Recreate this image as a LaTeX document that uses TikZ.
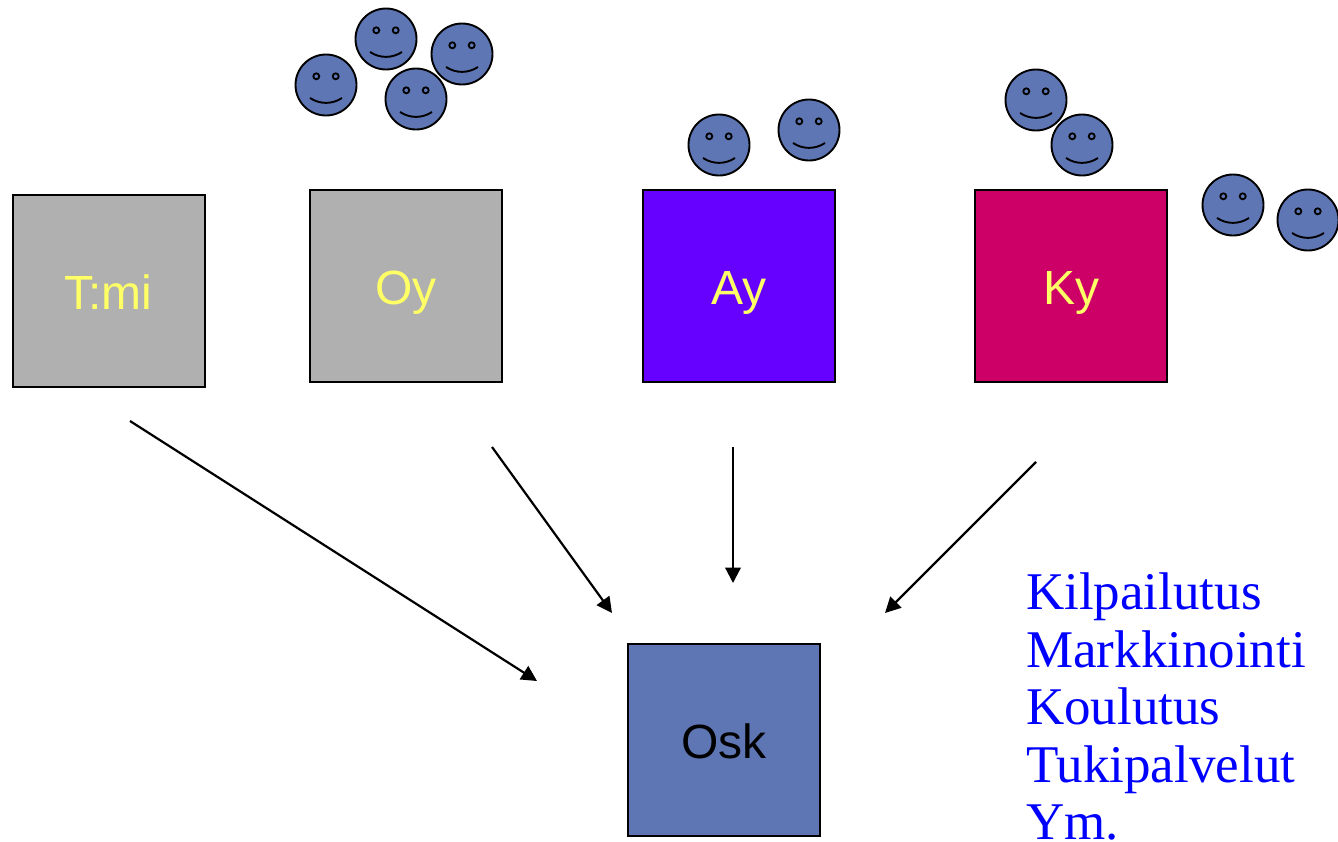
\documentclass[tikz,border=0pt]{standalone}
\usepackage{fontspec}
\setmainfont{Liberation Sans}
\newfontfamily\listfont{Liberation Serif}
\usetikzlibrary{arrows.meta}
\definecolor{facefill}{HTML}{5F76B4}
\definecolor{boxgray}{HTML}{B0B0B0}
\definecolor{boxviolet}{HTML}{6600FF}
\definecolor{boxred}{HTML}{CC0066}
\definecolor{labelyellow}{HTML}{FFFF66}
\tikzset{
  x=1pt,y=-1pt,
  orgbox/.style={draw=black,line width=2pt,minimum width=192pt,minimum height=192pt,inner sep=0pt,
    text height=36pt,text depth=0pt,
    font=\fontsize{48}{48}\selectfont,text=labelyellow},
  flow/.style={draw=black,line width=2.2pt,-{Triangle[length=15.5pt,width=15.5pt]}},
  pics/smiley/.style={code={
    \draw[fill=facefill,line width=1.9pt] (0,0) circle[radius=30.5];
    \draw[line width=1.8pt] (-9.7,-8.7) circle[radius=3] (9.7,-8.7) circle[radius=3];
    \draw[line width=1.9pt] (-16,13) .. controls (-6,19.5) and (6,19.5) .. (16,13);
  }}
}
\begin{document}
\begin{tikzpicture}
\useasboundingbox (0,0) rectangle (1338,841);
\pic (f1) at (386,39) {smiley};
\pic (f2) at (462,54) {smiley};
\pic (f3) at (416,99) {smiley};
\pic (f4) at (326,85) {smiley};
\pic (f5) at (719,145) {smiley};
\pic (f6) at (809,130) {smiley};
\pic (f7) at (1036,100) {smiley};
\pic (f8) at (1082,145) {smiley};
\pic (f9) at (1233,205) {smiley};
\pic (f10) at (1308,220) {smiley};
\node[orgbox,fill=boxgray] (tmi) at (108.5,291.3) {T:mi};
\node[orgbox,fill=boxgray] (oy) at (406,286) {Oy};
\node[orgbox,fill=boxviolet] (ay) at (739,286) {Ay};
\node[orgbox,fill=boxred] (ky) at (1071,286) {Ky};
\node[orgbox,fill=facefill,text=black] (osk) at (724,740) {Osk};
\coordinate (a1s) at (130,421); \coordinate (a1e) at (537,681);
\coordinate (a2s) at (492,447); \coordinate (a2e) at (612,613);
\coordinate (a3s) at (733,447); \coordinate (a3e) at (733,583);
\coordinate (a4s) at (1036,462); \coordinate (a4e) at (885,613);
\draw[flow] (a1s) -- (a1e);
\draw[flow] (a2s) -- (a2e);
\draw[flow] (a3s) -- (a3e);
\draw[flow] (a4s) -- (a4e);
\node[anchor=base west,inner sep=0pt,text=blue,text depth=0pt,font=\listfont\fontsize{53}{57.5}\selectfont,align=left] (list) at (1026,839.5)
  {Kilpailutus\\Markkinointi\\Koulutus\\Tukipalvelut\\Ym.};
\end{tikzpicture}
\end{document}
